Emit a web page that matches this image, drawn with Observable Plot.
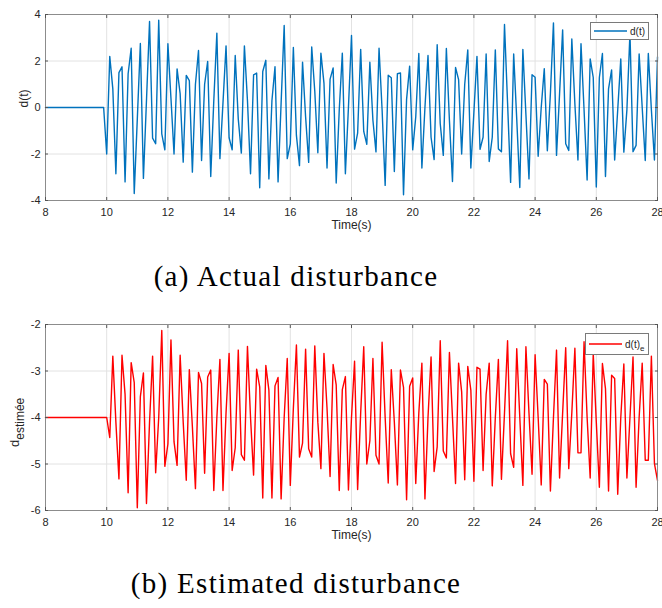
<!DOCTYPE html>
<html>
<head>
<meta charset="utf-8">
<script src="https://cdn.jsdelivr.net/npm/d3@7"></script>
<script src="https://cdn.jsdelivr.net/npm/@observablehq/plot@0.6"></script>
<style>
  body { margin: 0; background: #fff; }
  #fig { position: relative; width: 662px; height: 608px; overflow: hidden; }
  .panel { position: absolute; left: 0; }
  .caption {
    position: absolute; left: 296px; transform: translateX(-50%);
    font-family: "Liberation Serif", "Times New Roman", serif;
    font-size: 29px; line-height: 29px; letter-spacing: 1.3px;
    color: #000; white-space: nowrap;
  }
</style>
</head>
<body>
<div id="fig"></div>
<script>
// Sampling clock of the simulation (s)
const tStart = 10;
const dt = 0.1;

// Axis ticks
const xTicks = [8, 10, 12, 14, 16, 18, 20, 22, 24, 26, 28];
const yTicksActual = [-4, -2, 0, 2, 4];
const yTicksEstimated = [-6, -5, -4, -3, -2];

// Signals before the disturbance starts
const actualBefore = [[8, 0], [9.9, 0]];
const estimatedBefore = [[8, -4]];

// d(t), samples from t = 10.0 s to 28.0 s
const dActual = [
  -2.0, 2.2, 0.8, -2.85, 1.5, 1.75, -3.2, 1.45, 2.55, -3.7,
  -0.5, 2.75, -3.05, 0.3, 3.7, -1.32, -1.56, 3.75, -1.13, -1.82,
  2.74, 0.4, -2.0, 1.66, 0.6, -2.35, 1.38, 1.16, -2.78, 1.0,
  2.45, -2.28, 1.0, 1.98, -2.97, 0.3, 3.2, -2.2, 0.2, 2.65,
  -1.3, -1.82, 2.24, -0.5, -1.96, 2.65, 0.3, -2.85, 1.4, 1.48,
  -3.45, 1.55, 2.03, -3.07, 0.3, 1.75, -3.2, 0.2, 3.53, -2.2,
  -1.56, 2.58, -1.2, -2.5, 1.95, -0.4, -2.36, 2.6, 0.7, -1.95,
  2.34, 1.05, -2.6, 1.22, 1.7, -3.25, -0.1, 2.34, -2.85, 0.0,
  3.1, -1.79, -1.1, 2.5, -1.03, -1.58, 1.95, -0.55, -1.91, 2.55,
  -0.1, -3.35, 1.39, 1.28, -2.75, 1.45, 1.49, -3.75, 0.35, 1.78,
  -1.82, -0.4, 2.32, -2.6, 0.0, 2.24, -1.28, -2.24, 2.7, -0.7,
  -2.06, 2.54, -0.55, -3.18, 1.72, 1.2, -2.0, 1.0, 2.48, -2.6,
  -0.2, 2.2, -1.8, -1.28, 2.3, -2.32, -1.28, 2.48, -1.78, -1.9,
  3.57, 0.2, -3.22, 2.3, -0.5, -3.44, 2.5, -0.3, -3.07, 1.41,
  1.3, -2.1, 0.0, 1.67, -1.86, 0.6, 3.64, -2.06, 0.6, 3.34,
  -1.56, -1.85, 2.95, 0.15, -2.26, 2.74, -0.1, -3.12, 2.09, 1.29,
  -3.42, 1.29, 2.32, -2.97, 0.8, 1.62, -2.26, -0.1, 2.09, -1.92,
  -0.1, 3.2, -1.9, -1.63, 2.3, 0.0, -2.28, 2.32, -0.1, -2.26,
  2.17
];

// d(t)_e, samples from t = 10.0 s to 28.0 s
const dEstimated = [
  -4.0, -4.43, -2.68, -4.1, -5.32, -2.66, -3.5, -5.62, -2.82, -3.25,
  -5.94, -3.55, -3.04, -5.85, -4.1, -2.68, -5.19, -4.0, -2.13, -5.05,
  -4.57, -2.33, -4.52, -5.03, -2.66, -4.1, -5.35, -2.97, -4.2, -5.53,
  -3.03, -3.27, -5.2, -3.13, -2.98, -5.57, -4.0, -2.75, -5.57, -3.9,
  -2.62, -5.14, -4.65, -2.55, -4.8, -4.92, -2.47, -4.0, -5.24, -2.96,
  -3.34, -5.73, -2.88, -3.41, -5.73, -3.32, -3.14, -5.75, -4.0, -2.73,
  -5.46, -3.8, -2.44, -4.85, -4.55, -2.53, -4.67, -4.85, -2.46, -4.1,
  -5.1, -2.62, -3.8, -5.27, -2.86, -3.3, -5.57, -3.4, -3.12, -5.56,
  -4.0, -2.79, -5.55, -3.9, -2.48, -5.0, -4.5, -2.73, -4.81, -5.0,
  -2.38, -4.0, -5.41, -2.97, -4.1, -5.45, -2.98, -3.35, -5.77, -3.33,
  -3.15, -5.42, -3.9, -2.83, -5.75, -4.0, -2.7, -5.16, -4.63, -2.35,
  -4.72, -4.87, -2.6, -4.0, -5.42, -2.83, -3.45, -5.34, -2.9, -3.41,
  -5.37, -2.92, -2.96, -5.14, -3.5, -2.83, -5.47, -4.0, -2.75, -5.33,
  -3.9, -2.35, -4.78, -5.07, -2.52, -4.0, -5.46, -2.48, -3.9, -5.22,
  -2.65, -4.0, -5.45, -3.18, -3.28, -5.58, -4.0, -2.55, -5.3, -3.9,
  -2.5, -5.1, -3.9, -2.51, -4.76, -4.76, -2.37, -4.0, -5.3, -2.62,
  -4.1, -5.5, -2.84, -3.38, -5.58, -3.09, -3.16, -5.65, -4.0, -2.85,
  -5.3, -4.0, -2.7, -5.5, -4.0, -2.83, -4.92, -4.92, -2.68, -4.99,
  -5.35
];

const toRows = (before, values) =>
  before.map(([t, v]) => ({t, v})).concat(
    values.map((v, i) => ({t: +(tStart + i * dt).toFixed(1), v}))
  );

const W = 662, H = 240;
const M = {top: 14, right: 5, bottom: 40, left: 45};
const fmt = (d) => String(d);
const tickInk = "#555";
const sans = "'Liberation Sans', Arial, sans-serif";

function panel({rows, yDomain, yTicks, color, yLabel}) {
  return Plot.plot({
    width: W, height: H,
    marginTop: M.top, marginRight: M.right, marginBottom: M.bottom, marginLeft: M.left,
    style: {
      fontFamily: sans, fontSize: "11px", color: "#262626",
      background: "#fff", overflow: "visible"
    },
    x: {domain: [8, 28]},
    y: {domain: yDomain},
    marks: [
      Plot.gridX(xTicks, {stroke: "#e2e2e2", strokeOpacity: 1}),
      Plot.gridY(yTicks, {stroke: "#e2e2e2", strokeOpacity: 1}),
      Plot.line(rows, {x: "t", y: "v", stroke: color, strokeWidth: 1.4}),
      Plot.frame({stroke: "#8c8c8c"}),
      // inward tick marks on all four sides
      Plot.axisX(xTicks, {anchor: "bottom", tickSize: -3, stroke: tickInk, tickFormat: () => "", label: null}),
      Plot.axisX(xTicks, {anchor: "top", tickSize: -3, stroke: tickInk, tickFormat: () => "", label: null}),
      Plot.axisY(yTicks, {anchor: "left", tickSize: -3, stroke: tickInk, tickFormat: () => "", label: null}),
      Plot.axisY(yTicks, {anchor: "right", tickSize: -3, stroke: tickInk, tickFormat: () => "", label: null}),
      // tick labels
      Plot.axisX(xTicks, {anchor: "bottom", tickSize: 0, tickPadding: 8, tickFormat: fmt, label: null}),
      Plot.axisY(yTicks, {anchor: "left", tickSize: 0, tickPadding: 5, tickFormat: fmt, label: null}),
      Plot.text(["Time(s)"], {frameAnchor: "bottom", dy: 28, fontSize: 12, fill: "#262626"}),
      yLabel ? Plot.text([yLabel], {frameAnchor: "left", dx: -21, rotate: -90, fontSize: 12, fill: "#262626"}) : null
    ]
  });
}

function addLegend(svg, {x, y, w, h, color, label, sub}) {
  const g = d3.select(svg).append("g")
    .attr("font-family", sans)
    .attr("text-anchor", "start");
  g.append("rect").attr("x", x).attr("y", y).attr("width", w).attr("height", h)
    .attr("fill", "#fff").attr("stroke", "#7a7a7a").attr("stroke-width", 1);
  const cy = y + h / 2;
  g.append("line").attr("x1", x + 3.5).attr("x2", x + 36.5).attr("y1", cy).attr("y2", cy)
    .attr("stroke", color).attr("stroke-width", 1.4);
  const t = g.append("text").attr("x", x + 39.5).attr("y", cy).attr("dy", "0.35em")
    .attr("font-size", 10).attr("fill", "#262626");
  t.append("tspan").text(label);
  if (sub) t.append("tspan").attr("dy", 3.5).attr("font-size", 8).text(sub);
}

const fig = document.getElementById("fig");

// (a) actual disturbance
const chartA = panel({
  rows: toRows(actualBefore, dActual),
  yDomain: [-4, 4], yTicks: yTicksActual, color: "#0072BD", yLabel: "d(t)"
});
chartA.classList.add("panel");
chartA.style.top = "0px";
addLegend(chartA, {x: 590.5, y: 22.5, w: 58, h: 17, color: "#0072BD", label: "d(t)"});
fig.appendChild(chartA);

const capA = document.createElement("div");
capA.className = "caption";
capA.style.top = "262px";
capA.textContent = "(a) Actual disturbance";
fig.appendChild(capA);

// (b) estimated disturbance
const chartB = panel({
  rows: toRows(estimatedBefore, dEstimated),
  yDomain: [-6, -2], yTicks: yTicksEstimated, color: "#FF0000", yLabel: null
});
chartB.classList.add("panel");
chartB.style.top = "310px";
addLegend(chartB, {x: 585.5, y: 23.5, w: 63, h: 21, color: "#FF0000", label: "d(t)", sub: "e"});
{
  // y-axis title with subscript, written bottom-to-top
  const yl = d3.select(chartB).append("text")
    .attr("transform", "translate(18.5,137) rotate(-90)")
    .attr("text-anchor", "start")
    .attr("font-family", sans)
    .attr("fill", "#262626");
  yl.append("tspan").attr("font-size", 13).text("d");
  yl.append("tspan").attr("dy", 5).attr("font-size", 12).text("estimée");
}
fig.appendChild(chartB);

const capB = document.createElement("div");
capB.className = "caption";
capB.style.top = "569px";
capB.textContent = "(b) Estimated disturbance";
fig.appendChild(capB);
</script>
</body>
</html>
